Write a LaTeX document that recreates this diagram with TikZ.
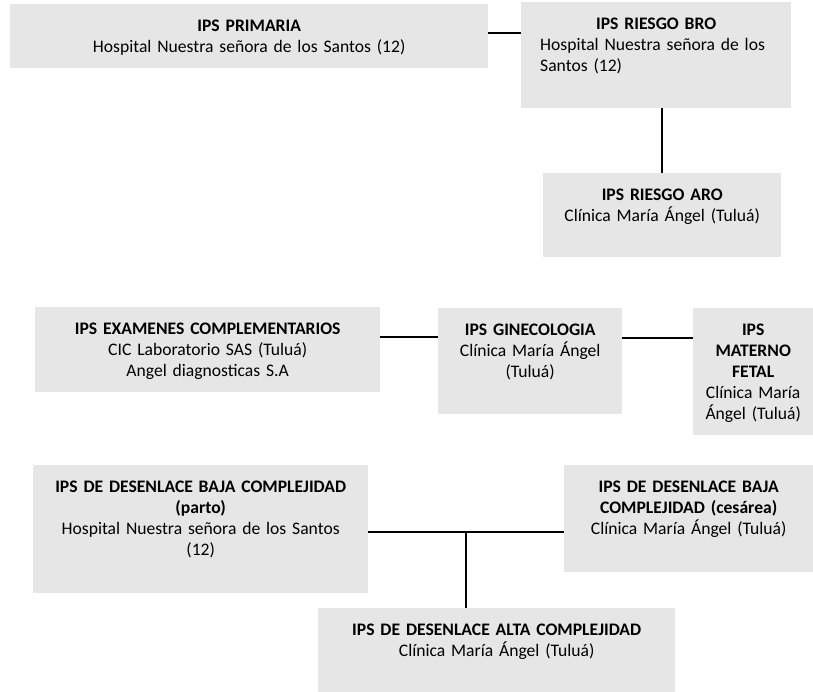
\documentclass[tikz,border=0pt]{standalone}
\usepackage{fontspec}
\setmainfont{Carlito}
\usepackage{tikz}
\definecolor{gris}{HTML}{E7E6E6}
\tikzset{
  caja/.style = {fill=gris, anchor=north west, inner xsep=5pt, inner ysep=0pt, align=center,
                 text height=27pt, font=\fontsize{17.6}{21}\selectfont},
  linea/.style = {line width=2.4pt}
}

\begin{document}
\begin{tikzpicture}[x=1pt, y=-1pt]
\useasboundingbox (0,0) rectangle (813,692);
\node[caja, text width=468pt, text depth=37pt] (prim) at (10,4) {\textbf{IPS PRIMARIA}\\
									Hospital Nuestra señora de los Santos (12)};
\node[caja, align=left, inner xsep=19pt, text width=232pt, text depth=79pt] (bro) at (521,2) {{\centering\textbf{IPS RIESGO BRO}\par}
									Hospital Nuestra señora de los\\ Santos (12)};
\node[caja, text width=228pt, text depth=57pt] (aro) at (543,173) {\textbf{IPS RIESGO ARO}\\
									Clínica María Ángel (Tuluá)};
\draw[linea] ([yshift=-29pt]prim.north east) -- ([yshift=-29pt]prim.north east -| bro.west);
\draw[linea] (aro.north) -- (aro.north |- bro.south);

\node[caja, text width=335pt, text depth=58pt] (exam) at (35,307) {\textbf{IPS EXAMENES COMPLEMENTARIOS}\\
									CIC Laboratorio SAS (Tuluá)\\ Angel diagnosticas S.A};
\node[caja, text width=174pt, text depth=79pt] (gine) at (438,308) {\textbf{IPS GINECOLOGIA}\\
									Clínica María Ángel\\ (Tuluá)};
\node[caja, text width=110pt, text depth=100pt] (mat) at (693,308) {\textbf{IPS}\\ \textbf{MATERNO}\\ \textbf{FETAL}\\
									Clínica María\\ Ángel (Tuluá)};
\draw[linea] ([yshift=-30pt]exam.north east) -- ([yshift=-30pt]exam.north east -| gine.west);
\draw[linea] ([yshift=-30pt]gine.north east) -- ([yshift=-30pt]gine.north east -| mat.west);

\node[caja, text width=325pt, text depth=101pt] (parto) at (33,465) {\textbf{IPS DE DESENLACE BAJA COMPLEJIDAD}\\ \textbf{(parto)}\\
									Hospital Nuestra señora de los Santos\\ (12)};
\node[caja, text width=239pt, text depth=80pt] (ces) at (564,465) {\textbf{IPS DE DESENLACE BAJA}\\ \textbf{COMPLEJIDAD (cesárea)}\\
									Clínica María Ángel (Tuluá)};
\node[caja, text width=347pt, text depth=57pt] (alta) at (318,608) {\textbf{IPS DE DESENLACE ALTA COMPLEJIDAD}\\
									Clínica María Ángel (Tuluá)};
\coordinate (cruce) at (466,532);
\draw[linea] (parto.east |- cruce) -- (ces.west |- cruce);
\draw[linea] (cruce) -- (cruce |- alta.north);
\end{tikzpicture}
\end{document}
